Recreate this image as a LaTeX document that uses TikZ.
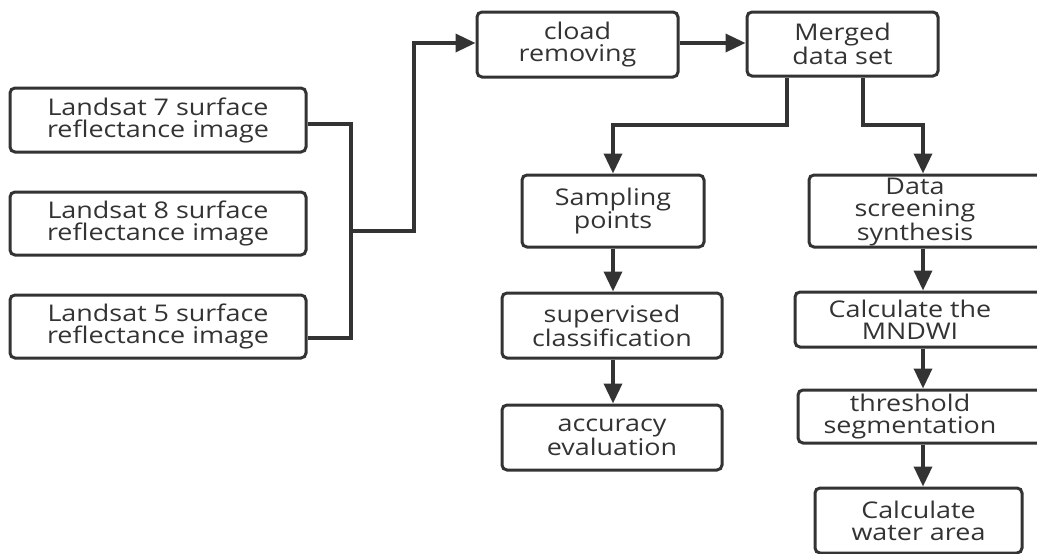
\documentclass[tikz,border=0pt]{standalone}
\usepackage{fontspec}
\setmainfont{Open Sans}[FakeStretch=1.17]
\usetikzlibrary{arrows.meta}
\definecolor{ink}{HTML}{333333}
\begin{document}
\begin{tikzpicture}[x=1pt,y=-1pt,
  lbl/.style={align=center, text=ink, font=\fontsize{23}{22}\selectfont},
  box/.style={lbl, draw=ink, line width=3pt, rounded corners=5pt, inner sep=0pt},
  txt/.style={lbl, inner sep=0pt},
  conn/.style={draw=ink, line width=3.5pt},
  arr/.style={conn, -{Triangle[length=20pt,width=18pt]}}]
\useasboundingbox (0,0) rectangle (1037,554);
\clip (0,0) rectangle (1037,554);

% left inputs
\node[box, minimum width=296pt, minimum height=64pt] (l7) at (158,120) {Landsat 7 surface\\reflectance image};
\node[box, minimum width=296pt, minimum height=63pt] (l8) at (158,223.5) {Landsat 8 surface\\reflectance image};
\node[box, minimum width=296pt, minimum height=63pt] (l5) at (158,326.5) {Landsat 5 surface\\reflectance image};

% top row
\node[box, minimum width=201pt, minimum height=65pt] (cload) at (577.5,44.5) {cload\\removing};
\node[box, minimum width=191pt, minimum height=64pt] (merged) at (842.5,44) {Merged\\data set};

% left column
\node[box, minimum width=182pt, minimum height=72pt] (samp) at (613,211) {Sampling\\points};
\node[box, minimum width=220pt, minimum height=65pt] (sup) at (612,325.5) {supervised\\classification};
\node[box, minimum width=220pt, minimum height=65pt] (acc) at (612,437.5) {accuracy\\evaluation};

% right column
\node[box, minimum width=241pt, minimum height=72pt] (ds) at (929.5,211) {};
\node[txt] (dst) at (915,212) {Data\\screening\\synthesis};
\node[box, minimum width=260pt, minimum height=55pt] (mndwi) at (925,319.5) {};
\node[txt] (mndwit) at (910,319.5) {Calculate the\\MNDWI};
\node[box, minimum width=257pt, minimum height=53pt] (thr) at (926.5,416.5) {};
\node[txt] (thrt) at (910,416.5) {threshold\\segmentation};
\node[box, minimum width=207pt, minimum height=65pt] (water) at (918.5,520.5) {Calculate\\water area};

% junction points
\coordinate (ja) at (351,124);
\coordinate (jb) at (351,338);
\coordinate (jc) at (351,231);
\coordinate (jd) at (414,231);
\coordinate (je) at (414,43);
\coordinate (m1) at (787,125);
\coordinate (m2) at (613,125);
\coordinate (m3) at (863,125);
\coordinate (m4) at (923,125);

% connectors
\draw[conn] (l7.east |- ja) -- (ja) -- (jb) -- (l5.east |- jb);
\draw[arr] (jc) -- (jd) -- (je) -- (cload.west |- je);
\draw[arr] (cload.east |- je) -- (merged.west |- je);
\draw[arr] (merged.south -| m1) -- (m1) -- (m2) -- (samp.north -| m2);
\draw[arr] (merged.south -| m3) -- (m3) -- (m4) -- (ds.north -| m4);
\draw[arr] (samp.south -| m2) -- (sup.north -| m2);
\draw[arr] (sup.south -| m2) -- (acc.north -| m2);
\draw[arr] (ds.south -| m4) -- (mndwi.north -| m4);
\draw[arr] (mndwi.south -| m4) -- (thr.north -| m4);
\draw[arr] (thr.south -| m4) -- (water.north -| m4);
\end{tikzpicture}
\end{document}
